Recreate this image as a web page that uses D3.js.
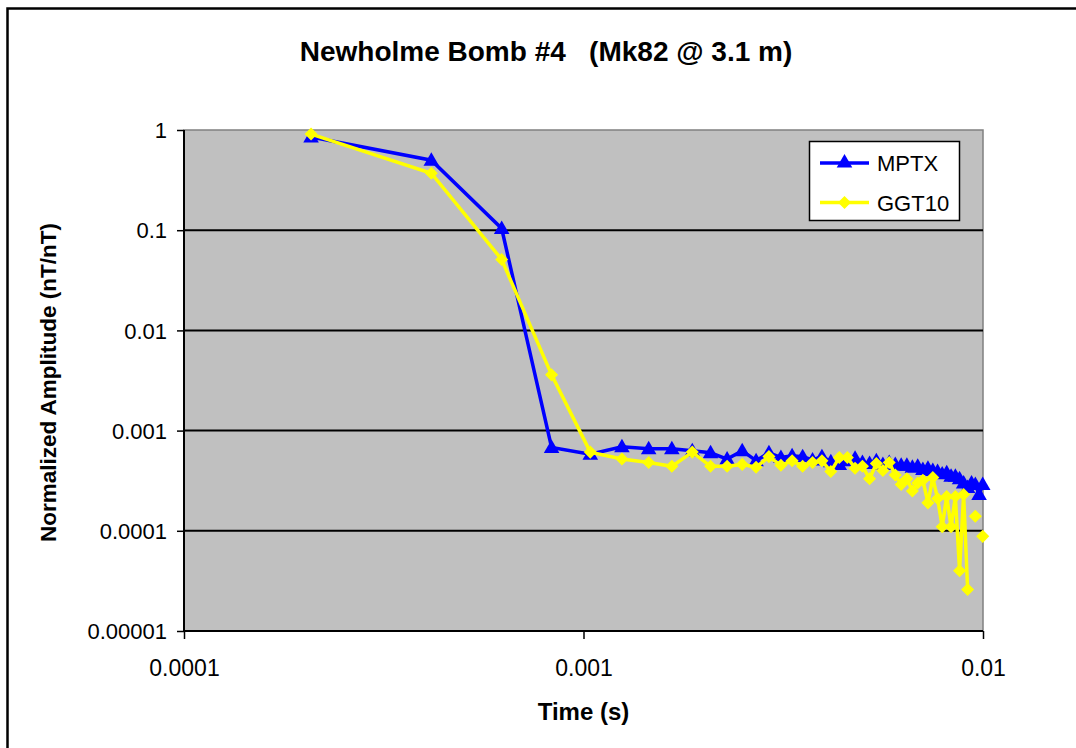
<!DOCTYPE html>
<html>
<head>
<meta charset="utf-8">
<script src="https://cdn.jsdelivr.net/npm/d3@7"></script>
<style>
  html, body { margin: 0; padding: 0; background: #fff; }
  svg { display: block; font-family: "Liberation Sans", Arial, sans-serif; }
</style>
</head>
<body>
<svg id="chart" width="1076" height="748"></svg>
<script>
// ---- data ----
const titleText = "Newholme Bomb #4   (Mk82 @ 3.1 m)";
const xTitle = "Time (s)";
const yTitle = "Normalized Amplitude (nT/nT)";
const seriesNames = ["MPTX", "GGT10"];

const times = [
  0.000208, 0.000416, 0.000624, 0.000832, 0.00104, 0.001248, 0.001456, 0.001664,
  0.001872, 0.00208, 0.002288, 0.002496, 0.002704, 0.002912, 0.00312, 0.003328,
  0.003536, 0.003744, 0.003952, 0.00416, 0.004368, 0.004576, 0.004784, 0.004992,
  0.0052, 0.005408, 0.005616, 0.005824, 0.006032, 0.00624, 0.006448, 0.006656,
  0.006864, 0.007072, 0.00728, 0.007488, 0.007696, 0.007904, 0.008112, 0.00832,
  0.008528, 0.008736, 0.008944, 0.009152, 0.00936, 0.009568, 0.009776, 0.009984
];

const mptx = [
  0.85, 0.50, 0.104, 6.8e-4, 5.8e-4, 6.9e-4, 6.6e-4, 6.6e-4,
  6.3e-4, 6.0e-4, 5.2e-4, 6.3e-4, 5.0e-4, 6.0e-4, 5.4e-4, 5.6e-4,
  5.5e-4, 5.1e-4, 5.5e-4, 4.9e-4, 4.6e-4, 5.0e-4, 5.3e-4, 4.8e-4,
  4.7e-4, 5.0e-4, 4.6e-4, 4.8e-4, 4.6e-4, 4.5e-4, 4.5e-4, 4.3e-4,
  4.4e-4, 4.1e-4, 4.2e-4, 4.0e-4, 3.9e-4, 3.7e-4, 3.8e-4, 3.5e-4,
  3.5e-4, 3.3e-4, 3.0e-4, 2.7e-4, 3.0e-4, 2.9e-4, 2.3e-4, 2.9e-4
];

const ggt10 = [
  0.91, 0.37, 0.051, 3.6e-3, 6.1e-4, 5.2e-4, 4.8e-4, 4.4e-4,
  6.1e-4, 4.4e-4, 4.4e-4, 4.6e-4, 4.3e-4, 5.5e-4, 4.5e-4, 5.0e-4,
  4.4e-4, 4.8e-4, 5.0e-4, 3.9e-4, 5.4e-4, 5.4e-4, 4.2e-4, 4.4e-4,
  3.3e-4, 4.7e-4, 4.0e-4, 4.8e-4, 3.6e-4, 2.9e-4, 3.3e-4, 2.5e-4,
  3.0e-4, 3.2e-4, 1.9e-4, 3.4e-4, 2.1e-4, 1.1e-4, 2.2e-4, 1.1e-4,
  2.2e-4, 4.0e-5, 2.3e-4, 2.6e-5, null, 1.4e-4, null, 8.8e-5
];

const xTicks = [0.0001, 0.001, 0.01];
const xTickLabels = ["0.0001", "0.001", "0.01"];
const yTicks = [0.00001, 0.0001, 0.001, 0.01, 0.1, 1];
const yTickLabels = ["0.00001", "0.0001", "0.001", "0.01", "0.1", "1"];

// ---- layout ----
const svg = d3.select("#chart");
const plot = { left: 184, top: 130, right: 983, bottom: 631 };

const x = d3.scaleLog().domain([0.0001, 0.01]).range([plot.left, plot.right]);
const y = d3.scaleLog().domain([0.00001, 1]).range([plot.bottom, plot.top]);

// outer chart border
svg.append("rect").attr("x", 7.5).attr("y", 8.5).attr("width", 1100).attr("height", 800)
  .attr("fill", "#fff").attr("stroke", "#000").attr("stroke-width", 2.5);

// title
svg.append("text").attr("x", 546).attr("y", 61).attr("text-anchor", "middle")
  .attr("font-weight", "bold").attr("font-size", 28).style("white-space", "pre")
  .text(titleText);

// plot area
svg.append("rect").attr("x", plot.left).attr("y", plot.top)
  .attr("width", plot.right - plot.left).attr("height", plot.bottom - plot.top)
  .attr("fill", "#C0C0C0").attr("stroke", "#808080").attr("stroke-width", 1.5);

// gridlines
svg.append("g").selectAll("line").data(yTicks.slice(1, -1)).join("line")
  .attr("x1", plot.left).attr("x2", plot.right)
  .attr("y1", d => y(d)).attr("y2", d => y(d))
  .attr("stroke", "#000").attr("stroke-width", 2);

// axes
const xAxis = d3.axisBottom(x).tickValues(xTicks).tickSize(8).tickFormat((d, i) => xTickLabels[i]);
const gx = svg.append("g").attr("transform", `translate(0,${plot.bottom})`).call(xAxis);
gx.select(".domain").attr("stroke", "#000").attr("stroke-width", 2).attr("d", `M${plot.left},0H${plot.right}`);
gx.selectAll(".tick line").attr("stroke", "#000").attr("stroke-width", 1.5);
gx.selectAll(".tick text").attr("font-size", 23).attr("fill", "#000")
  .attr("font-family", "Liberation Sans, Arial, sans-serif").attr("dy", null).attr("y", 45);

const yAxis = d3.axisLeft(y).tickValues(yTicks).tickSize(7).tickFormat((d, i) => yTickLabels[i]);
const gy = svg.append("g").attr("transform", `translate(${plot.left},0)`).call(yAxis);
gy.select(".domain").attr("stroke", "#000").attr("stroke-width", 2).attr("d", `M0,${plot.top}V${plot.bottom}`);
gy.selectAll(".tick line").attr("stroke", "#000").attr("stroke-width", 1.5);
gy.selectAll(".tick text").attr("font-size", 22).attr("fill", "#000")
  .attr("font-family", "Liberation Sans, Arial, sans-serif").attr("x", -17).attr("dy", "0.35em");

// axis titles
svg.append("text").attr("x", (plot.left + plot.right) / 2).attr("y", 720).attr("text-anchor", "middle")
  .attr("font-weight", "bold").attr("font-size", 24).text(xTitle);
svg.append("text").attr("transform", `translate(56,${(plot.top + plot.bottom) / 2 + 2}) rotate(-90)`)
  .attr("text-anchor", "middle").attr("font-weight", "bold").attr("font-size", 22.5).text(yTitle);

// series
const colors = ["#0000FF", "#FFFF00"];
const seriesData = [mptx, ggt10].map(vals => times.map((t, i) => ({ t, v: vals[i] })));
const line = d3.line().defined(d => d.v != null && d.v > 0).x(d => x(d.t)).y(d => y(d.v));
const triSym = d3.symbol().type(d3.symbolTriangle).size(105);
const diaSym = d3.symbol().type(d3.symbolSquare).size(85);

seriesData.forEach((data, si) => {
  const g = svg.append("g");
  g.append("path").datum(data).attr("d", line).attr("fill", "none")
    .attr("stroke", colors[si]).attr("stroke-width", 3.5).attr("stroke-linejoin", "miter");
  g.selectAll("path.m").data(data.filter(d => d.v != null)).join("path").attr("class", "m")
    .attr("d", si === 0 ? triSym : diaSym)
    .attr("transform", d => si === 0 ? `translate(${x(d.t)},${y(d.v) + 1})` : `translate(${x(d.t)},${y(d.v)}) rotate(45)`)
    .attr("fill", colors[si]);
});

// legend
const lg = svg.append("g");
lg.append("rect").attr("x", 809.5).attr("y", 141.5).attr("width", 150).attr("height", 79)
  .attr("fill", "#fff").attr("stroke", "#000").attr("stroke-width", 1.5);
seriesNames.forEach((name, i) => {
  const yy = 163 + i * 39.5;
  lg.append("line").attr("x1", 820).attr("x2", 869).attr("y1", yy).attr("y2", yy)
    .attr("stroke", colors[i]).attr("stroke-width", 3.5);
  lg.append("path")
    .attr("d", i === 0 ? triSym : diaSym)
    .attr("transform", i === 0 ? `translate(844.5,${yy})` : `translate(844.5,${yy}) rotate(45)`)
    .attr("fill", colors[i]);
  lg.append("text").attr("x", 877).attr("y", yy + 8).attr("font-size", 22).text(name);
});
</script>
</body>
</html>
